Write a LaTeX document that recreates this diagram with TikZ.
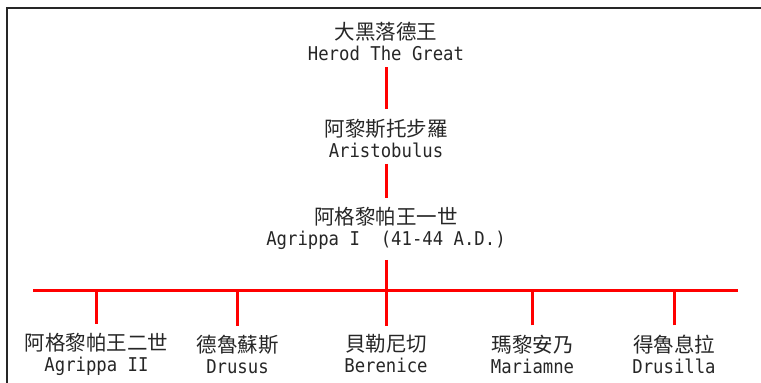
\documentclass[tikz,border=0pt]{standalone}
\usepackage{fontspec}
\newfontfamily\cjk{Noto Sans CJK TC}
\newfontfamily\latin[FakeStretch=0.91]{DejaVu Sans Mono}
\usetikzlibrary{positioning}
\newcommand{\twoname}[2]{{\fontsize{20.5}{21}\cjk #1}\\{\fontsize{19}{21}\latin #2}}
\tikzset{
person/.style={align=center, inner sep=4pt, text=black!85, font=\fontsize{19}{21}\selectfont}, % every name node
kin/.style={red, line width=3pt}, % the red family lines
frame/.style={black!85, line width=2pt}, % the box edges
}
\begin{document}
\begin{tikzpicture}[x=1pt, y=-1pt]
\useasboundingbox (0,0) rectangle (761,383);
\draw[frame] (7,383) -- (7,7.5) -- (761,7.5);
% the line of descent
\node[person] (herod) at (386,41) {\twoname{大黑落德王}{Herod The Great}};
\node[person] (aristo) at (386,138.5) {\twoname{阿黎斯托步羅}{Aristobulus}};
\node[person] (agone) at (386,228.5) {\twoname{阿格黎帕王一世}{Agrippa I\ \ (41-44 A.D.)}};
% the children
\node[person] (agtwo) at (96.5,354) {\twoname{阿格黎帕王二世}{Agrippa II}};
\node[person] (drusus) at (237.5,354) {\twoname{德魯蘇斯}{Drusus}};
\node[person] (berenice) at (386,354) {\twoname{貝勒尼切}{Berenice}};
\node[person] (mariamne) at (532.5,354) {\twoname{瑪黎安乃}{Mariamne}};
\node[person] (drusilla) at (674,354) {\twoname{得魯息拉}{Drusilla}};
\coordinate (barL) at (33,290);
\coordinate (barR) at (738,290);
\draw[kin, shorten <=3pt, shorten >=6pt] (herod) -- (aristo);
\draw[kin, shorten <=2pt, shorten >=5pt] (aristo) -- (agone);
\draw[kin, shorten <=6pt] (agone) -- (agone |- barL);
\draw[kin] (barL) -- (barR);
\foreach \k in {agtwo,drusus,berenice,mariamne,drusilla}
  \draw[kin, shorten <=5pt] (\k.north) -- (\k.north |- barL);
\end{tikzpicture}
\end{document}
